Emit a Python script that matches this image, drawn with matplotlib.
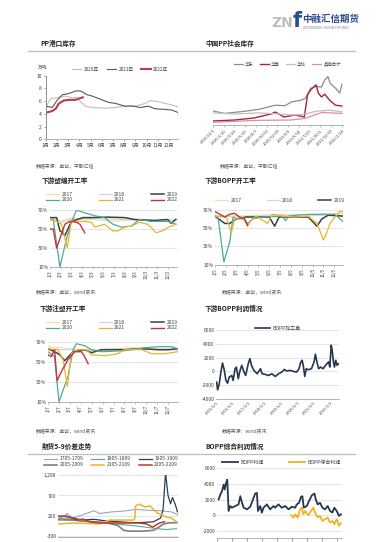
import matplotlib
matplotlib.use('Agg')
import matplotlib.pyplot as plt
from matplotlib.lines import Line2D

plt.rcParams['font.family'] = ['Noto Sans CJK SC', 'DejaVu Sans']
plt.rcParams['axes.unicode_minus'] = False

# ---------------- data ----------------
# chart 1: port inventory (万吨), x in months
c1_labels = ['2020年', '2021年', '2022年']
c1_2020_m = [1.06, 1.44, 1.89, 2.18, 2.78, 3.37, 3.81, 4.11, 4.55, 5.14, 6.33, 7.21, 8.1, 8.99, 9.88, 10.32, 11.06, 11.65, 12.24, 12.83]
c1_2020_v = [5.2, 6.4, 6.5, 6.6, 6.8, 6.5, 6.6, 5.9, 5.2, 5.0, 4.9, 5.0, 5.2, 5.2, 5.65, 6.1, 5.9, 5.65, 5.4, 5.1]
c1_2021_m = [1.06, 1.59, 2.04, 2.48, 3.07, 3.66, 4.11, 4.70, 5.14, 6.03, 6.62, 7.21, 8.10, 8.69, 9.43, 10.17, 10.76, 11.65, 12.24, 12.83]
c1_2021_v = [5.2, 5.0, 6.2, 7.0, 7.2, 7.6, 7.6, 7.0, 6.8, 6.2, 5.8, 5.65, 5.2, 5.25, 5.0, 5.2, 4.8, 4.7, 4.6, 4.2]
c1_2022_m = [1.06, 1.59, 1.89, 2.18, 2.63, 3.07, 3.66, 3.96, 4.31]
c1_2022_v = [4.2, 4.45, 4.8, 5.65, 6.1, 6.2, 6.2, 6.4, 6.6]
c1_month_labels = ['%d月' % i for i in range(1, 13)]

# chart 2: social inventory, x in weeks
c2_labels = ['华东', '华南', '华北', '其他合计']
c2_a_w = [0, 11, 20, 32, 44, 58, 67, 73, 82, 86, 91, 96, 101, 104, 107, 109, 114, 118, 120]
c2_a_v = [2.55, 2.1, 2.3, 2.55, 2.9, 3.6, 3.5, 4.2, 4.5, 4.85, 6.7, 7.0, 6.9, 8.2, 8.8, 7.6, 6.7, 5.8, 7.4]
c2_b_w = [0, 20, 38, 54, 58, 66, 76, 82, 85, 88, 91, 96, 98, 101, 104, 109, 114, 120]
c2_b_v = [0.73, 0.9, 1.27, 2.0, 2.36, 1.45, 1.8, 1.6, 1.45, 5.5, 6.4, 7.3, 5.8, 5.1, 5.6, 4.4, 3.6, 3.45]
c2_c_w = [0, 20, 42, 60, 76, 86, 96, 108, 120]
c2_c_v = [2.2, 2.0, 2.2, 2.0, 1.8, 2.0, 2.5, 2.7, 2.4]
c2_d_w = [0, 42, 72, 86, 94, 102, 110, 120]
c2_d_v = [0.5, 0.85, 0.9, 1.2, 1.8, 2.3, 2.2, 2.1]
c2_date_labels = ['2019/11/1', '2020/1/10', '2020/3/20', '2020/5/29', '2020/8/7', '2020/10/16',
                  '2020/12/25', '2021/3/5', '2021/5/14', '2021/7/23', '2021/10/1', '2021/12/10', '2022/2/18']

years = ['2017', '2018', '2019', '2020', '2021', '2022']

# chart 3: woven bag operating rate (%), x in months
c3_m = {
    '2017': [1, 2, 3, 5, 7, 9, 11, 12.8],
    '2018': [1, 2, 3, 5, 8, 11, 12.8],
    '2019': [1, 1.62, 1.93, 2.08, 2.39, 3.0, 4.1, 4.87, 6.4, 7.97, 8.9, 10.75, 12.0, 12.3, 12.76],
    '2020': [1, 1.3, 1.93, 2.55, 3.0, 3.48, 4.25, 5.18, 6.1, 6.88, 7.66, 8.6, 9.36, 10.45, 12.0, 12.76],
    '2021': [1, 1.62, 2.08, 2.61, 3.0, 4.25, 4.87, 5.18, 6.1, 6.88, 7.35, 7.97, 8.6, 9.36, 10.13, 10.6, 10.9, 11.5, 12.1, 12.76],
    '2022': [1, 1.3, 1.62, 1.93, 2.39, 2.85, 3.48, 3.8, 4.25],
}
c3_v = {
    '2017': [60, 56, 60, 60, 58, 60, 58, 60],
    '2018': [62, 58, 61, 61, 60, 59, 60],
    '2019': [62, 62, 48, 47, 43, 58, 62, 62, 62.5, 62, 60, 59, 60, 56, 60],
    '2020': [60, 60, 10, 40, 57, 70, 67, 64, 62, 55, 52, 53, 60, 58, 58, 55],
    '2021': [60, 58, 55, 30, 58, 58, 57, 52, 55, 48, 48, 52, 53, 57, 55, 50, 46, 48, 52, 55],
    '2022': [50, 50, 30, 40, 55, 58, 57, 55, 46],
}
c3_tick_labels = ['%d/3' % i for i in range(1, 13)]

# chart 4: BOPP operating rate (%)
c4_m = {
    '2017': [1, 3, 5, 7, 9, 11, 12.8],
    '2018': [1, 3, 5, 7, 9, 11, 12.8],
    '2019': [1, 1.9, 2.36, 2.97, 3.88, 6.0, 6.5, 6.9, 9.6, 10.4, 10.85, 11.45, 12.8],
    '2020': [1, 1.3, 1.82, 2.36, 2.67, 2.97, 3.7, 4.0, 4.5, 5.4, 7.2, 7.5, 7.8, 8.4, 9.9, 11.15, 12.06, 12.8],
    '2021': [1, 2.06, 2.5, 2.8, 3.6, 4.0, 4.33, 4.8, 5.85, 6.3, 7.2, 8.4, 9.6, 10.4, 11.0, 11.3, 11.6, 12.06, 12.5, 12.8],
    '2022': [1, 1.45, 1.9, 2.36, 2.8, 3.27, 3.7, 4.0],
}
c4_v = {
    '2017': [64, 63, 64, 65, 64, 65, 66],
    '2018': [63, 62, 63, 64, 63, 64, 64],
    '2019': [63, 55, 55, 60, 62, 62, 52, 62, 62, 52, 60, 64, 63],
    '2020': [62, 60, 13, 35, 62, 60, 60, 55, 60, 62, 63, 58, 63, 64, 65, 65, 65, 57],
    '2021': [63, 62, 44, 60, 62, 52, 58, 63, 55, 65, 63, 62, 63, 55, 37, 45, 55, 62, 68, 68],
    '2022': [68, 65, 62, 65, 66, 62, 60, 53],
}
c4_tick_labels = ['%d/5' % i for i in range(1, 13)]

# chart 5: injection molding operating rate (%)
c5_m = {
    '2017': [1, 3, 5, 7, 9, 11, 12.9],
    '2018': [1, 3, 5, 7, 9, 11, 12.9],
    '2019': [1, 1.6, 2.07, 2.53, 3.3, 4.36, 4.98, 5.9, 8.0, 9.56, 11.1, 12.0, 12.9],
    '2020': [1, 1.6, 2.0, 2.83, 3.3, 3.6, 4.36, 4.98, 5.9, 8.0, 9.87, 11.1, 12.3, 12.9],
    '2021': [1, 1.9, 2.38, 2.77, 3.14, 3.75, 4.5, 4.98, 6.2, 7.4, 8.0, 9.56, 10.5, 11.7, 12.9],
    '2022': [1, 1.3, 1.6, 1.83, 2.22, 2.83, 3.45, 4.06, 4.36, 4.67],
}
c5_v = {
    '2017': [65, 63, 62, 63, 64, 63, 62],
    '2018': [62, 62, 61, 62, 63, 62, 62],
    '2019': [63, 60, 57, 51, 60, 62, 59, 62, 62, 63, 62, 62, 63],
    '2020': [60, 55, 10, 35, 62, 68, 66, 62, 60, 61, 64, 65, 65, 63],
    '2021': [63, 62, 52, 25, 58, 62, 62, 57, 56, 58, 62, 62, 58, 58, 60],
    '2022': [57, 55, 62, 31, 40, 52, 60, 60, 55, 48],
}
c5_tick_labels = ['%d/7' % i for i in range(1, 13)]

# chart 6: BOPP processing spread, x in decimal years
c6_label = 'BOPP加工差'
c6_t = [2015.04, 2015.10, 2015.20, 2015.30, 2015.40, 2015.51, 2015.61, 2015.71, 2015.81, 2015.97,
        2016.05, 2016.17, 2016.25, 2016.37, 2016.45, 2016.58, 2016.72, 2016.82, 2016.98, 2017.08,
        2017.18, 2017.32, 2017.53, 2017.73, 2017.83, 2018.03, 2018.23, 2018.43, 2018.64, 2018.84,
        2019.04, 2019.20, 2019.34, 2019.55, 2019.75, 2019.95, 2020.09, 2020.21, 2020.29, 2020.37,
        2020.45, 2020.54, 2020.66, 2020.86, 2021.02, 2021.10, 2021.22, 2021.30, 2021.42, 2021.57,
        2021.77, 2021.91, 2021.99, 2022.07, 2022.13, 2022.21, 2022.27, 2022.35, 2022.43, 2022.51]
c6_v = [-1560, -2680, -1800, -100, 1220, 150, -1320, -1710, -830, -590,
        -1320, 390, 630, -1070, -100, 880, -100, -590, 1120, 1850,
        880, 150, -340, 390, -340, -440, -590, -340, -730, -340,
        -100, 290, 50, 150, 0, -100, 390, 1370, 1610, 630,
        -730, 390, 240, 390, 1370, 2490, 1120, 390, 630, 390,
        1020, 1370, 630, 3800, 3070, 1370, 630, 1610, 880, 1120]
c6_year_labels = ['2015/1/1', '2016/1/1', '2017/1/1', '2018/1/1', '2019/1/1', '2020/1/1', '2021/1/1', '2022/1/1']

# chart 7: 5-9 futures spread, x in trading days
c7_labels = ['1705-1709', '1805-1809', '1905-1909', '2005-2009', '2105-2109', '2205-2209']
c7_d = {
    '1705-1709': [0, 19, 29, 48, 72, 84, 108, 132, 156, 180, 204, 228, 240],
    '1805-1809': [0, 36, 84, 120, 156, 187, 216, 238],
    '1905-1909': [0, 12, 24, 48, 72, 96, 120, 144, 168, 192, 206, 211, 216, 221, 226, 230, 235, 240],
    '2005-2009': [0, 24, 48, 72, 96, 120, 132, 144, 168, 180, 192, 204, 211, 221, 240],
    '2105-2109': [0, 34, 84, 103, 151, 154, 156, 163, 175, 185, 199, 209, 218, 228, 238],
    '2205-2209': [0, 17, 38, 50, 65, 84, 125, 163, 178, 190, 204, 214],
}
c7_v = {
    '1705-1709': [100, 260, 150, 220, 330, 260, 300, 320, 360, 340, 330, 300, 230],
    '1805-1809': [100, 90, 30, 0, -40, -90, -130, -110],
    '1905-1909': [200, 190, 170, 100, 120, 80, 60, 40, 40, 60, 150, 350, 1250, 700, 500, 650, 500, 300],
    '2005-2009': [130, 120, 80, 60, 40, -30, -150, -170, -170, -160, -150, -60, 0, 30, 40],
    '2105-2109': [5, 30, 5, 100, 100, 125, 445, 490, 420, 445, 275, 225, 175, 150, 55],
    '2205-2209': [185, 200, 100, 125, 55, 30, 30, 30, 5, -70, 30, 60],
}

# chart 8: BOPP profit, x in decimal years
c8_labels = ['BOPP利润', 'BOPP综合利润']
c8_a_t = [2014.11, 2014.22, 2014.33, 2014.44, 2014.51, 2014.60, 2014.68, 2014.73, 2014.77, 2014.88,
          2014.99, 2015.21, 2015.43, 2015.55, 2015.66, 2015.77, 2015.99, 2016.21, 2016.43, 2016.54,
          2016.65, 2016.72, 2016.87, 2016.98, 2017.09, 2017.31, 2017.53, 2017.75, 2017.86, 2018.08,
          2018.30, 2018.53, 2018.75, 2018.97, 2019.19, 2019.30, 2019.45, 2019.58, 2019.67, 2019.76,
          2019.96, 2020.11, 2020.29, 2020.47, 2020.56, 2020.69, 2020.84, 2021.00, 2021.17, 2021.35,
          2021.51, 2021.66, 2021.79, 2021.95, 2022.10, 2022.23]
c8_a_v = [2020, 2650, 3070, 3920, 3280, 4130, 4550, 2440, 550, 1180,
          970, 1180, 1390, 2440, 1600, 970, 760, 1090, 2230, 2780,
          2860, 550, 1180, 340, 970, 1390, 760, 1180, 970, 1390,
          970, 1180, 760, 1090, 970, 1390, 1600, 2360, 2440, 970,
          1180, 1810, 2530, 2780, 2020, 1390, 1600, 970, 760, 1180,
          550, 340, 970, 550, -80, 130]
c8_b_t = [2018.92, 2019.08, 2019.19, 2019.36, 2019.52, 2019.63, 2019.74, 2019.85, 2020.07, 2020.25,
          2020.40, 2020.51, 2020.69, 2020.84, 2021.00, 2021.17, 2021.35, 2021.51, 2021.66, 2021.79,
          2021.95, 2022.10, 2022.23]
c8_b_v = [0, -290, 130, -290, 760, 970, 130, 550, 0, 550,
          970, 340, -290, -80, -720, -510, -290, -930, -720, -1140,
          -510, -1350, -1010]

# ---------------- figure ----------------
W, H = 383, 542
fig = plt.figure(figsize=(W / 100, H / 100), dpi=100)
fig.patch.set_facecolor('white')

def axbox(l, t, r, b):
    return fig.add_axes([l / W, 1 - b / H, (r - l) / W, (b - t) / H])

def ftext(x, y, s, **kw):
    fig.text(x / W, 1 - y / H, s, **kw)

def frac(box, x, y):
    l, t, r, b = box
    return ((x - l) / (r - l), (b - y) / (b - t))

TICK = 3.6
TXT = '#404040'

def style(ax, grid=True, left=False):
    for s in ['top', 'right']:
        ax.spines[s].set_visible(False)
    ax.spines['left'].set_visible(left)
    ax.spines['left'].set_color('#7f7f7f')
    ax.spines['left'].set_linewidth(0.6)
    ax.spines['bottom'].set_color('#a6a6a6')
    ax.spines['bottom'].set_linewidth(0.6)
    ax.tick_params(labelsize=TICK, colors=TXT, length=0, pad=1.2)
    if grid:
        ax.yaxis.grid(True, color='#d9d9d9', lw=0.5)
    ax.set_axisbelow(True)

def leg(ax, box, handles, labels, x, y, ncol, colsp, fs=3.7, hl=2.2, ls=0.35):
    fx, fy = frac(box, x, y)
    ax.legend(handles, labels, loc='upper left', bbox_to_anchor=(fx, fy), ncol=ncol,
              frameon=False, fontsize=fs, handlelength=hl, handletextpad=0.5,
              columnspacing=colsp, borderaxespad=0, borderpad=0, labelspacing=ls,
              labelcolor=TXT)

# header / logo
ftext(271, 23, 'ZN', fontsize=10, color='#bdbdbd', fontweight='bold', va='center', ha='left', family='DejaVu Sans')
ftext(293, 21, 'f', fontsize=15, color='#1f4e9c', fontweight='bold', va='center', ha='left', family='DejaVu Sans')
ftext(302, 19, '中融汇信期货', fontsize=6.8, color='#2a4a8a', fontweight='bold', va='center', ha='left')
ftext(303, 28, 'ZHONGRONG HUIXIN FUTURES', fontsize=2.2, color='#7f7f7f', va='center', ha='left', family='DejaVu Sans')

for yy in [50.5, 453.5]:
    fig.add_artist(Line2D([28 / W, 355 / W], [1 - yy / H, 1 - yy / H], color='#bfbfbf', lw=0.9))

TFS = 4.8
titles = [(40, 43, 'PP港口库存'), (205, 43, '中国PP社会库存'),
          (42, 181, '下游塑编开工率'), (205, 181, '下游BOPP开工率'),
          (40, 308, '下游注塑开工率'), (205, 308, '下游BOPP利润情况'),
          (42, 446, '期货5-9价差走势'), (205, 446, 'BOPP综合利润情况')]
for x, y, s in titles:
    ftext(x, y, s, fontsize=TFS, fontweight='bold', color='#262626', va='center', ha='left')

SFS = 3.5
sources = [(36, 166, '数据来源：卓创，中融汇信'), (220, 166, '数据来源：卓创，中融汇信'),
           (36, 293, '数据来源：卓创，wind资讯'), (222, 293, '数据来源：卓创，wind资讯'),
           (36, 432, '数据来源：卓创，wind资讯'), (222, 432, '数据来源：wind资讯')]
for x, y, s in sources:
    ftext(x, y, s, fontsize=SFS, color='#595959', va='center', ha='left')

# ---- chart 1 ----
b1 = (45.7, 75.7, 178, 139.3)
ax1 = axbox(*b1)
style(ax1, grid=False, left=True)
ax1.tick_params(axis='both', length=1.5, color='#7f7f7f', width=0.5)
l1, = ax1.plot(c1_2020_m, c1_2020_v, color='#bfbfbf', lw=0.8)
l2, = ax1.plot(c1_2021_m, c1_2021_v, color='#595959', lw=0.8)
l3, = ax1.plot(c1_2022_m, c1_2022_v, color='#c0394b', lw=1.5)
ax1.set_xlim(1, 12.8)
ax1.set_ylim(0, 10)
ax1.set_yticks([0, 2, 4, 6, 8, 10])
ax1.set_xticks(range(1, 13))
ax1.set_xticklabels(c1_month_labels)
ftext(38, 67, '万吨', fontsize=3.4, color=TXT, va='center', ha='left')
leg(ax1, b1, [l1, l2, l3], c1_labels, 72, 66.5, 3, 1.6, fs=3.4, hl=2.0)

# ---- chart 2 ----
b2 = (213, 70, 343, 125)
ax2 = axbox(*b2)
style(ax2, grid=False)
a, = ax2.plot(c2_a_w, c2_a_v, color='#8c8c8c', lw=0.9)
b, = ax2.plot(c2_b_w, c2_b_v, color='#a8233a', lw=1.0)
c, = ax2.plot(c2_c_w, c2_c_v, color='#bfbfbf', lw=0.9)
d, = ax2.plot(c2_d_w, c2_d_v, color='#e58a9a', lw=0.9)
ax2.set_xlim(0, 121)
ax2.set_ylim(0, 10)
ax2.set_yticks([])
ax2.set_xticks(range(0, 121, 10))
ax2.set_xticklabels(c2_date_labels, rotation=45, ha='right', rotation_mode='anchor', fontsize=3.0)
ax2.tick_params(axis='x', length=1.2, color='#a6a6a6', width=0.5)
leg(ax2, b2, [a, b, c, d], c2_labels, 234, 61.5, 4, 1.4, fs=3.2, hl=2.0)

year_colors = {'2017': '#f3e2a2', '2018': '#cfd8e2', '2019': '#3f3f3f',
               '2020': '#4aab9b', '2021': '#e8b52f', '2022': '#c8323c'}
year_lw = {'2017': 0.9, '2018': 0.9, '2019': 1.1, '2020': 0.9, '2021': 0.9, '2022': 1.0}
leg_order = ['2017', '2020', '2018', '2021', '2019', '2022']

def rate_chart(box, mdict, vdict, ticklabels, xmax, legxy, colsp, rows=2):
    ax = axbox(*box)
    style(ax)
    hs = {}
    for y in years:
        hs[y], = ax.plot(mdict[y], vdict[y], color=year_colors[y], lw=year_lw[y])
    ax.set_xlim(1, xmax)
    ax.set_ylim(10, 70)
    ax.set_yticks([10, 30, 50, 70])
    ax.set_yticklabels(['10%', '30%', '50%', '70%'])
    ax.set_xticks(range(1, 13))
    ax.set_xticklabels(ticklabels, rotation=90, fontsize=3.2)
    ax.tick_params(axis='x', length=1.2, color='#a6a6a6', width=0.5)
    if rows == 2:
        order = leg_order
        leg(ax, box, [hs[y] for y in order], order, legxy[0], legxy[1], 3, colsp, fs=3.6, hl=2.6, ls=0.15)
    else:
        order = years[:3]
        leg(ax, box, [hs[y] for y in order], order, legxy[0], legxy[1], 3, colsp, fs=3.6, hl=2.6)
    return ax

b3 = (50, 210, 177, 267)
rate_chart(b3, c3_m, c3_v, c3_tick_labels, 12.87, (46, 191.5), 5.2)
b4 = (215, 209.7, 343, 264.7)
rate_chart(b4, c4_m, c4_v, c4_tick_labels, 12.8, (215, 198), 5.0, rows=1)
b5 = (48, 341.7, 178, 401.7)
rate_chart(b5, c5_m, c5_v, c5_tick_labels, 12.9, (46, 319.5), 5.2)

# ---- chart 6 ----
b6 = (216, 330, 339, 399)
ax6 = axbox(*b6)
style(ax6)
h6, = ax6.plot(c6_t, c6_v, color='#26384f', lw=1.2)
ax6.set_xlim(2015.0, 2022.55)
ax6.set_ylim(-4000, 6000)
ax6.set_yticks([-4000, -2000, 0, 2000, 4000, 6000])
ax6.set_xticks(range(2015, 2023))
ax6.set_xticklabels(c6_year_labels, rotation=45, ha='right', rotation_mode='anchor', fontsize=3.0)
leg(ax6, b6, [h6], [c6_label], 255, 325.5, 1, 1, fs=3.6, hl=3.0)

# ---- chart 7 ----
b7 = (58, 475, 178, 536.5)
ax7 = axbox(*b7)
style(ax7)
c7_colors = {'1705-1709': '#8faac2', '1805-1809': '#4caf93', '1905-1909': '#2c3e55',
             '2005-2009': '#808080', '2105-2109': '#f0b323', '2205-2209': '#c0392b'}
c7_lw = {'1705-1709': 0.8, '1805-1809': 0.8, '1905-1909': 0.9, '2005-2009': 1.2, '2105-2109': 1.1, '2205-2209': 1.1}
h7 = {}
for k in c7_labels:
    h7[k], = ax7.plot(c7_d[k], c7_v[k], color=c7_colors[k], lw=c7_lw[k])
ax7.set_xlim(0, 241)
ax7.set_ylim(-300, 1200)
ax7.set_yticks([-300, 200, 700, 1200])
ax7.set_yticklabels(['-300', '200', '700', '1,200'])
ax7.set_xticks([])
order7 = ['1705-1709', '2005-2009', '1805-1809', '2105-2109', '1905-1909', '2205-2209']
leg(ax7, b7, [h7[k] for k in order7], order7, 44, 456.5, 3, 1.6, fs=3.6, hl=2.6, ls=0.15)

# ---- chart 8 ----
b8 = (217, 468.3, 342, 538)
ax8 = axbox(*b8)
style(ax8)
ha8, = ax8.plot(c8_a_t, c8_a_v, color='#26384f', lw=1.3)
hb8, = ax8.plot(c8_b_t, c8_b_v, color='#f0b323', lw=1.3)
ax8.set_xlim(2014.0, 2022.3)
ax8.set_ylim(-2900, 6000)
ax8.set_yticks([-2000, 0, 2000, 4000, 6000])
ax8.set_xticks(range(2014, 2023))
ax8.set_xticklabels([])
ax8.tick_params(axis='x', length=2.5, color='#8c8c8c', width=0.6, direction='out')
leg(ax8, b8, [ha8, hb8], c8_labels, 222, 460, 2, 5.0, fs=3.6, hl=3.2)

fig.savefig('out.png', dpi=100)
